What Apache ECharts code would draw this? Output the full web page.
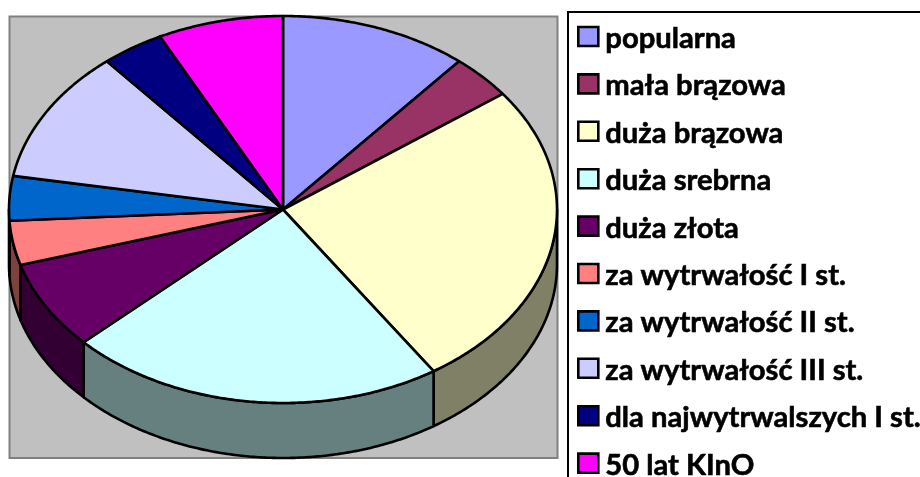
<!DOCTYPE html>
<html>
<head>
<meta charset="utf-8">
<style>html,body{margin:0;padding:0;background:#fff;overflow:hidden}#c{width:920px;height:477px}</style>
<script src="https://cdn.jsdelivr.net/npm/echarts@6/dist/echarts.min.js"></script>
</head>
<body>
<div id="c"></div>
<script>
const categories = ['popularna','mała brązowa','duża brązowa','duża srebrna','duża złota','za wytrwałość I st.','za wytrwałość II st.','za wytrwałość III st.','dla najwytrwalszych I st.','50 lat KInO'];
const values = [3,1,7,6,2,1,1,3,1,2];
const colors = ['#9999FF','#993366','#FFFFCC','#CCFFFF','#660066','#FF8080','#0066CC','#CCCCFF','#000080','#FF00FF'];
const wallColors = ['#4D4D80','#4D1A33','#808066','#668080','#330033','#804040','#003366','#666680','#000040','#800080'];

const CX = 283, CY = 209.5, RX = 274, RY = 193.5, DEPTH = 55;
const total = values.reduce((a, b) => a + b, 0);
const rim = (deg, dy) => {
  const t = deg * Math.PI / 180;
  return [CX + RX * Math.sin(t), CY - RY * Math.cos(t) + dy];
};
const arc = (a0, a1, dy) => {
  const n = Math.max(2, Math.ceil((a1 - a0) * 2));
  const pts = [];
  for (let k = 0; k <= n; k++) pts.push(rim(a0 + (a1 - a0) * k / n, dy));
  return pts;
};

function makeSeries(i) {
  const before = values.slice(0, i).reduce((a, b) => a + b, 0);
  return {
    type: 'custom',
    name: categories[i],
    coordinateSystem: 'none',
    silent: true,
    animation: false,
    itemStyle: { color: colors[i] },
    data: [[values[i]]],
    renderItem: function (params, api) {
      const a0 = before / total * 360;
      const a1 = a0 + api.value(0) / total * 360;
      const children = [];
      const w0 = Math.max(a0, 90), w1 = Math.min(a1, 270);
      if (w1 > w0) {
        const top = arc(w0, w1, 0);
        const bottom = arc(w0, w1, DEPTH).reverse();
        children.push({
          type: 'polygon',
          shape: { points: top.concat(bottom) },
          style: { fill: wallColors[i], stroke: '#000', lineWidth: 2.6, lineJoin: 'round' }
        });
      }
      children.push({
        type: 'polygon',
        shape: { points: [[CX, CY]].concat(arc(a0, a1, 0)) },
        style: { fill: colors[i], stroke: '#000', lineWidth: 2.6, lineJoin: 'round' }
      });
      return { type: 'group', children: children };
    }
  };
}

const chart = echarts.init(document.getElementById('c'), null, { renderer: 'canvas', width: 920, height: 477 });
chart.setOption({
  animation: false,
  backgroundColor: '#fff',
  graphic: [{
    type: 'rect',
    z: -10,
    silent: true,
    shape: { x: 9.5, y: 16.5, width: 548, height: 441.5 },
    style: { fill: '#C0C0C0', stroke: '#808080', lineWidth: 2 }
  }],
  legend: {
    data: categories,
    orient: 'vertical',
    left: 568,
    top: 12,
    height: 560,
    width: 420,
    icon: 'rect',
    itemWidth: 20,
    itemHeight: 19,
    itemGap: 14.1,
    selectedMode: false,
    padding: [8, 60, 20, 9],
    backgroundColor: '#fff',
    borderColor: '#000',
    borderWidth: 2,
    borderRadius: 0,
    itemStyle: { borderColor: '#000', borderWidth: 2.6 },
    formatter: name => '{s|\u200b}{t|' + name + '}',
    textStyle: {
      color: '#000',
      padding: [0, 0, 0, 2],
      rich: {
        s: { fontSize: 1, lineHeight: 33, height: 33, width: 0, verticalAlign: 'middle' },
        t: { fontFamily: 'Lato', fontWeight: 'bold', fontSize: 29.2, color: '#000', lineHeight: 29, verticalAlign: 'bottom', textBorderColor: '#000', textBorderWidth: 0.6 }
      }
    }
  },
  series: categories.map((c, i) => makeSeries(i))
});
</script>
</body>
</html>
